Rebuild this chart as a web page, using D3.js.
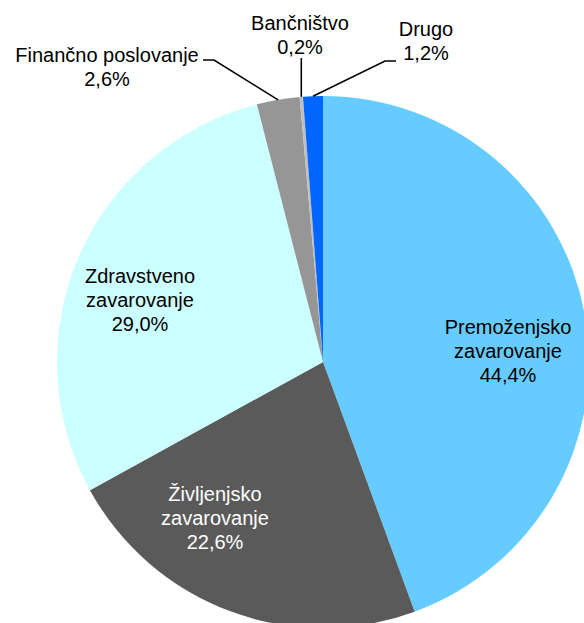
<!DOCTYPE html>
<html>
<head>
<meta charset="utf-8">
<script src="https://cdn.jsdelivr.net/npm/d3@7"></script>
<style>
  html, body { margin: 0; padding: 0; background: #fff; }
  svg { display: block; }
  text { font-family: "Liberation Sans", Arial, sans-serif; }
</style>
</head>
<body>
<svg id="chart" width="584" height="623"></svg>
<script>
// ---- Data ----
const categories = ["Premoženjsko zavarovanje", "Življenjsko zavarovanje", "Zdravstveno zavarovanje", "Finančno poslovanje", "Bančništvo", "Drugo"];
const values = [44.4, 22.6, 29.0, 2.6, 0.2, 1.2];
const labelLines = [["Premoženjsko", "zavarovanje"], ["Življenjsko", "zavarovanje"], ["Zdravstveno", "zavarovanje"], ["Finančno poslovanje"], ["Bančništvo"], ["Drugo"]];
const colors = ["#66CCFF", "#5A5A5A", "#CCFFFF", "#969696", "#C0C0C0", "#0066FF"];
const textColors = ["#000", "#fff", "#000", "#000", "#000", "#000"];

// ---- Layout ----
const width = 584, height = 623;
const cx = 323, cy = 362, radius = 266;
const fontSize = 20, lineH = 24;
// label anchor (center x, first baseline y) and leader elbow
const labelLayout = [
  { x: 508, y: 334 },
  { x: 215, y: 501 },
  { x: 140, y: 283 },
  { x: 107, y: 62, elbow: [214, 60], end: [203, 60] },
  { x: 300, y: 30, elbow: null, end: [301, 58] },
  { x: 426, y: 36, elbow: [385, 61], end: [396, 61] }
];

const svg = d3.select("#chart");
const g = svg.append("g").attr("transform", `translate(${cx},${cy})`);

const pie = d3.pie().sort(null).value(d => d.value);
const data = categories.map((c, i) => ({ name: c, value: values[i], i }));
const arcs = pie(data);
const arc = d3.arc().innerRadius(0).outerRadius(radius);

g.selectAll("path.slice")
  .data(arcs)
  .join("path")
  .attr("class", "slice")
  .attr("d", arc)
  .attr("fill", d => colors[d.data.i]);

const fmt = v => d3.format(".1f")(v).replace(".", ",") + "%";

// leader lines for small slices
arcs.forEach(a => {
  const L = labelLayout[a.data.i];
  if (!L.end) return;
  const mid = (a.startAngle + a.endAngle) / 2;
  const sx = cx + radius * Math.sin(mid);
  const sy = cy - radius * Math.cos(mid);
  const pts = [[sx, sy]];
  if (L.elbow) pts.push(L.elbow);
  else pts.push([sx, L.end[1]]);
  if (L.elbow) pts.push(L.end);
  svg.append("path")
    .attr("d", d3.line()(pts))
    .attr("fill", "none")
    .attr("stroke", "#000")
    .attr("stroke-width", 1.6);
});

// labels
arcs.forEach(a => {
  const i = a.data.i;
  const L = labelLayout[i];
  const lines = labelLines[i].concat([fmt(values[i])]);
  const t = svg.append("text")
    .attr("text-anchor", "middle")
    .attr("font-size", fontSize)
    .attr("fill", textColors[i]);
  lines.forEach((ln, k) => {
    t.append("tspan").attr("x", L.x).attr("y", L.y + k * lineH).text(ln);
  });
});
</script>
</body>
</html>
